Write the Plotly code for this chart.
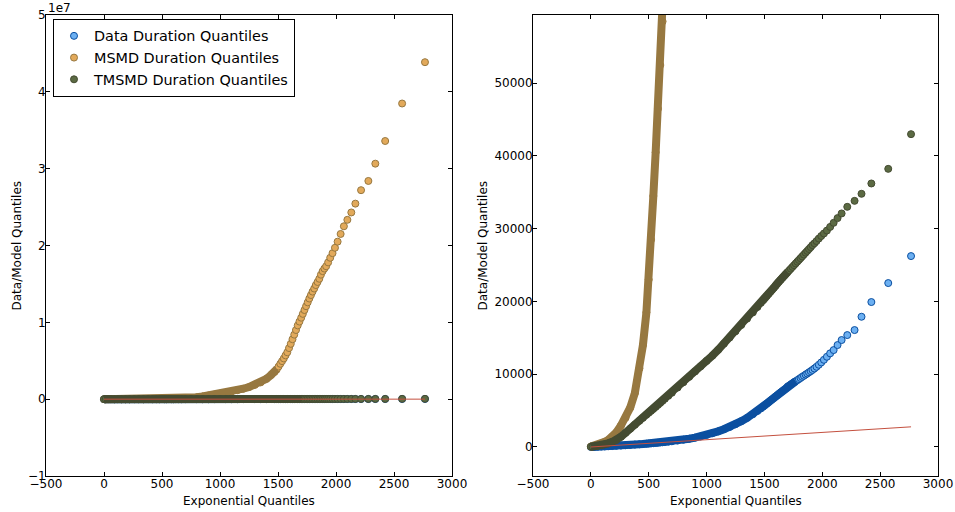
import plotly.graph_objects as go

# ---------------- data ----------------
X_QUANT = [0, 15, 35, 60, 90, 120, 150, 185, 220, 260,
           300, 340, 380, 420, 450, 480, 500, 520, 540, 560,
           580, 600, 620, 640, 670, 700, 750, 800, 850, 900,
           950, 1000, 1050, 1100, 1150, 1200, 1250, 1300, 1350, 1400,
           1440, 1470, 1490, 1505, 1520, 1535, 1550, 1565, 1580, 1595,
           1610, 1625, 1640, 1655, 1670, 1685, 1700, 1714, 1728, 1742,
           1756, 1770, 1784, 1798, 1812, 1826, 1841, 1856, 1870, 1885,
           1900, 1915, 1932, 1950, 1970, 1991, 2014, 2040, 2068, 2098,
           2132, 2167, 2216, 2279, 2339, 2424, 2570, 2767]

DATA_Q = [0, 5, 20, 35, 55, 75, 100, 130, 160, 200,
          240, 280, 330, 370, 400, 440, 470, 490, 520, 550,
          580, 610, 640, 670, 720, 780, 880, 1000, 1130, 1280,
          1450, 1650, 1890, 2150, 2440, 2750, 3130, 3550, 4000, 4500,
          4950, 5300, 5550, 5750, 5950, 6150, 6340, 6540, 6730, 6930,
          7120, 7320, 7510, 7690, 7870, 8050, 8300, 8450, 8600, 8750,
          8900, 9040, 9180, 9330, 9480, 9640, 9790, 9950, 10100, 10260,
          10420, 10590, 10790, 11020, 11300, 11620, 11980, 12400, 12870, 13320,
          14010, 14700, 15380, 16070, 17900, 19920, 22530, 26240]

MSMD_Q = [50, 100, 200, 320, 500, 700, 960, 1400, 2000, 2950,
          4000, 5400, 7400, 10800, 14000, 18500, 23000, 28500, 34500, 40500,
          46500, 52500, 58500, 65000, 78000, 100000, 170000, 260000, 360000, 470000,
          590000, 720000, 860000, 1000000, 1170000, 1360000, 1580000, 1850000, 2180000, 2650000,
          3150000, 3550000, 3900000, 4250000, 4600000, 4950000, 5300000, 5700000, 6100000, 6650000,
          7200000, 7800000, 8400000, 9000000, 9600000, 10100000, 10600000, 11100000, 11600000, 12100000,
          12600000, 13100000, 13550000, 14000000, 14400000, 14850000, 15250000, 15670000, 16200000, 16660000,
          17000000, 17300000, 17800000, 18400000, 19000000, 19700000, 20500000, 21500000, 22500000, 23340000,
          24300000, 25450000, 27200000, 28400000, 30650000, 33600000, 38480000, 43860000]

TMSMD_Q = [30, 50, 90, 150, 240, 360, 500, 700, 950, 1400,
           1950, 2500, 3050, 3600, 4000, 4420, 4700, 4960, 5230, 5500,
           5780, 6060, 6340, 6620, 7030, 7450, 8170, 8900, 9640, 10380,
           11100, 11830, 12550, 13350, 14200, 15050, 15900, 16770, 17640, 18500,
           19250, 19810, 20180, 20460, 20740, 21020, 21300, 21580, 21860, 22150,
           22450, 22720, 22990, 23250, 23510, 23770, 24030, 24270, 24510, 24750,
           24990, 25230, 25470, 25710, 25950, 26190, 26450, 26710, 26950, 27210,
           27470, 27750, 28000, 28300, 28650, 29000, 29350, 29750, 30250, 30810,
           31460, 32100, 33010, 33830, 34800, 36220, 38230, 43000]

SERIES_NAMES = ["Data Duration Quantiles", "MSMD Duration Quantiles", "TMSMD Duration Quantiles"]

X_TICKS = [-500, 0, 500, 1000, 1500, 2000, 2500, 3000]
X_TICK_TEXT = ["\u2212500", "0", "500", "1000", "1500", "2000", "2500", "3000"]
LEFT_Y_TICKS = [-1e7, 0, 1e7, 2e7, 3e7, 4e7, 5e7]
LEFT_Y_TEXT = ["\u22121", "0", "1", "2", "3", "4", "5"]
RIGHT_Y_TICKS = [0, 10000, 20000, 30000, 40000, 50000]
RIGHT_Y_TEXT = ["0", "10000", "20000", "30000", "40000", "50000"]

# ---------------- styling ----------------
FONT = "DejaVu Sans"
STYLES = [
    # fill, edge, dense-band end index (left panel, right panel)
    ("#6cb0f2", "#0b4fa0", 57, 62),
    ("#e2a95a", "#977840", 43, 25),
    ("#5b6a43", "#444b31", 57, 57),
]
RED = "#c4503f"

fig = go.Figure()
series = [DATA_Q, MSMD_Q, TMSMD_Q]
for k, (xa, ya) in enumerate([("x", "y"), ("x2", "y2")]):
    for name, ys, (fill, edge, cut_l, cut_r) in zip(SERIES_NAMES, series, STYLES):
        cut = cut_l if k == 0 else cut_r
        fig.add_trace(go.Scatter(
            x=X_QUANT, y=ys, mode="markers", name=name,
            legendgroup=name, showlegend=(k == 0),
            marker=dict(size=7, color=fill, line=dict(color=edge, width=1)),
            xaxis=xa, yaxis=ya))
        fig.add_trace(go.Scatter(
            x=X_QUANT[:cut], y=ys[:cut], mode="lines", showlegend=False,
            legendgroup=name, hoverinfo="skip",
            line=dict(color=edge, width=8),
            xaxis=xa, yaxis=ya))
    fig.add_trace(go.Scatter(
        x=[X_QUANT[0], X_QUANT[-1]], y=[X_QUANT[0], X_QUANT[-1]],
        mode="lines", showlegend=False, hoverinfo="skip",
        line=dict(color=RED, width=1), xaxis=xa, yaxis=ya))

axis_common = dict(
    ticks="inside", ticklen=4, tickwidth=1, tickcolor="black",
    showline=True, linecolor="black", linewidth=1, mirror="ticks",
    showgrid=False, zeroline=False,
    tickfont=dict(family=FONT, size=12, color="black"),
)

W, H = 955, 512
L, R, T, B = 46, 17, 15, 36
pw = W - L - R
ph = H - T - B

def px_x(p):
    return (p - L) / pw

def px_y(p):
    return (H - B - p) / ph

fig.update_layout(
    width=W, height=H,
    margin=dict(l=L, r=R, t=T, b=B, autoexpand=False),
    paper_bgcolor="white", plot_bgcolor="white",
    font=dict(family=FONT, size=12, color="black"),
    xaxis=dict(domain=[0, px_x(452)], range=[-500, 3000], anchor="y", ticklabelstandoff=-3,
               tickvals=X_TICKS, ticktext=X_TICK_TEXT, **axis_common),
    yaxis=dict(domain=[0, 1], range=[-1e7, 5e7], anchor="x", ticklabelstandoff=-3,
               tickvals=LEFT_Y_TICKS, ticktext=LEFT_Y_TEXT, **axis_common),
    xaxis2=dict(domain=[px_x(533), 1], range=[-500, 3000], anchor="y2", ticklabelstandoff=-3,
                tickvals=X_TICKS, ticktext=X_TICK_TEXT, **axis_common),
    yaxis2=dict(domain=[0, 1], range=[-3990, 59380], anchor="x2", ticklabelstandoff=-3,
                tickvals=RIGHT_Y_TICKS, ticktext=RIGHT_Y_TEXT, **axis_common),
    legend=dict(x=px_x(53), y=px_y(19), xanchor="left", yanchor="top",
                bgcolor="white", bordercolor="black", borderwidth=1,
                font=dict(family=FONT, size=14.4, color="black"),
                tracegroupgap=0, traceorder="grouped"),
    showlegend=True,
    annotations=[
        dict(text="Exponential Quantiles", x=px_x(249), y=px_y(501), xref="paper", yref="paper",
             showarrow=False, xanchor="center", yanchor="middle", font=dict(size=12)),
        dict(text="Exponential Quantiles", x=px_x(735.5), y=px_y(501), xref="paper", yref="paper",
             showarrow=False, xanchor="center", yanchor="middle", font=dict(size=12)),
        dict(text="Data/Model Quantiles", x=px_x(16), y=px_y(245.5), xref="paper", yref="paper",
             showarrow=False, xanchor="center", yanchor="middle", textangle=-90, font=dict(size=12)),
        dict(text="Data/Model Quantiles", x=px_x(482), y=px_y(245.5), xref="paper", yref="paper",
             showarrow=False, xanchor="center", yanchor="middle", textangle=-90, font=dict(size=12)),
        dict(text="1e7", x=px_x(46), y=px_y(8), xref="paper", yref="paper",
             showarrow=False, xanchor="left", yanchor="middle", font=dict(size=12)),
    ],
)

fig.write_html("out.html", config={"displayModeBar": False},
               post_script="document.body.style.margin='0';document.body.style.overflow='hidden';")
